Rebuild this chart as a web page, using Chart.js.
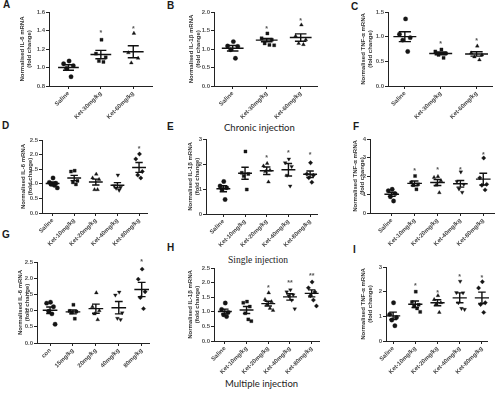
<!DOCTYPE html>
<html>
<head>
<meta charset="utf-8">
<script src="https://cdn.jsdelivr.net/npm/chart.js@4.4.0/dist/chart.umd.min.js"></script>
<style>
  body { margin: 0; width: 500px; height: 394px; background: #fff; position: relative; overflow: hidden; }
  canvas.p { position: absolute; }
  .lt { position: absolute; font: bold 10px "Liberation Sans", Arial, sans-serif; color: #1a1a1a; }
  .hd { position: absolute; white-space: nowrap; color: #222; }
</style>
</head>
<body>
<div class="lt" style="left:3px;top:-1px">A</div>
<div class="lt" style="left:167px;top:0px">B</div>
<div class="lt" style="left:351px;top:1px">C</div>
<div class="lt" style="left:2px;top:120px">D</div>
<div class="lt" style="left:167px;top:121px">E</div>
<div class="lt" style="left:353px;top:121px">F</div>
<div class="lt" style="left:2px;top:229px">G</div>
<div class="lt" style="left:167px;top:242px">H</div>
<div class="lt" style="left:353px;top:244px">I</div>
<div class="hd" style="left:224px;top:122px;font:9.5px Lato,sans-serif">Chronic injection</div>
<div class="hd" style="left:228px;top:255px;font:9.5px 'Liberation Serif',serif">Single injection</div>
<div class="hd" style="left:225px;top:378px;font:9.5px Lato,sans-serif">Multiple injection</div>

<script>
// 카테고리
var catsABC = ['Saline', 'Ket-30mg/kg', 'Ket-60mg/kg'];
var catsKet = ['Saline', 'Ket-10mg/kg', 'Ket-20mg/kg', 'Ket-40mg/kg', 'Ket-80mg/kg'];
var catsG = ['con', '15mg/kg', '20mg/kg', '40mg/kg', '80mg/kg'];

// 개별값 / 평균 / SEM / 유의표시
var ptsA = [[1.07, 1.04, 1.02, 0.99, 0.90], [1.30, 1.15, 1.11, 1.07, 1.06], [1.37, 1.16, 1.10, 1.05]];
var meanA = [1.00, 1.14, 1.17];
var semA = [0.03, 0.045, 0.065];
var starA = ['', '*', '*'];
var starYA = [0, 1.38, 1.43];

var ptsB = [[1.20, 1.08, 1.07, 0.98, 0.75], [1.42, 1.29, 1.25, 1.15, 1.11, 1.10], [1.65, 1.35, 1.25, 1.15, 1.12]];
var meanB = [1.02, 1.24, 1.31];
var semB = [0.075, 0.045, 0.10];
var starB = ['', '*', '*'];
var starYB = [0, 1.56, 1.78];

var ptsC = [[1.36, 1.05, 0.98, 0.93, 0.70], [0.74, 0.70, 0.66, 0.63, 0.57], [0.81, 0.67, 0.63, 0.59, 0.53]];
var meanC = [1.00, 0.66, 0.65];
var semC = [0.10, 0.03, 0.045];
var starC = ['', '*', '*'];
var starYC = [0, 0.87, 0.93];

var ptsD = [[1.20, 1.05, 1.02, 0.98, 0.95, 0.86], [1.45, 1.42, 1.10, 1.05, 0.98], [1.33, 1.20, 1.15, 0.80, 0.80], [1.30, 0.93, 0.88, 0.85, 0.78], [2.02, 1.85, 1.42, 1.30, 1.20]];
var meanD = [1.01, 1.20, 1.06, 0.95, 1.56];
var semD = [0.05, 0.09, 0.10, 0.09, 0.17];
var starD = ['', '', '', '', '*'];
var starYD = [0, 0, 0, 0, 2.22];

var ptsE = [[1.30, 1.12, 1.05, 0.98, 0.58], [2.50, 1.65, 1.60, 1.52, 0.98], [2.02, 1.92, 1.75, 1.70, 1.28], [2.20, 2.05, 1.90, 1.55, 1.12], [2.05, 1.60, 1.55, 1.45, 1.27]];
var meanE = [1.01, 1.63, 1.73, 1.77, 1.59];
var semE = [0.12, 0.24, 0.15, 0.25, 0.13];
var starE = ['', '', '*', '*', '*'];
var starYE = [0, 0, 2.27, 2.49, 2.40];

var ptsF = [[1.28, 1.20, 1.05, 0.88, 0.65], [2.00, 1.65, 1.55, 1.50, 1.28], [1.97, 1.92, 1.75, 1.50, 1.10], [2.22, 1.70, 1.55, 1.30, 1.12], [2.97, 1.90, 1.55, 1.50, 1.25]];
var meanF = [1.01, 1.60, 1.65, 1.58, 1.83];
var semF = [0.11, 0.13, 0.16, 0.18, 0.32];
var starF = ['', '*', '*', '*', '*'];
var starYF = [0, 2.30, 2.35, 2.36, 3.20];

var ptsG = [[1.26, 1.23, 1.12, 0.98, 0.90, 0.58], [1.18, 0.99, 0.97, 0.94, 0.75], [1.55, 1.12, 1.00, 0.90, 0.72], [1.57, 1.48, 0.93, 0.76, 0.72], [2.28, 1.97, 1.58, 1.40, 1.06]];
var meanG = [1.01, 0.96, 1.06, 1.09, 1.65];
var semG = [0.10, 0.06, 0.14, 0.19, 0.22];
var starG = ['', '', '', '', '*'];
var starYG = [0, 0, 0, 0, 2.52];

var ptsH = [[1.30, 1.08, 0.98, 0.90, 0.84], [1.35, 1.31, 1.18, 0.95, 0.74, 0.68], [1.65, 1.42, 1.35, 1.25, 1.12, 1.05], [1.75, 1.68, 1.58, 1.55, 1.40, 1.10], [2.02, 1.82, 1.68, 1.55, 1.40, 1.20]];
var meanH = [1.01, 1.06, 1.28, 1.51, 1.63];
var semH = [0.08, 0.12, 0.08, 0.11, 0.12];
var starH = ['', '', '*', '**', '**'];
var starYH = [0, 0, 1.85, 2.02, 2.25];

var ptsI = [[1.55, 1.08, 0.95, 0.85, 0.62], [2.00, 1.58, 1.47, 1.40, 1.32, 1.18], [1.84, 1.68, 1.55, 1.50, 1.16], [2.42, 1.96, 1.95, 1.55, 1.32, 1.28], [2.40, 2.15, 1.55, 1.48, 1.16]];
var meanI = [1.02, 1.49, 1.55, 1.75, 1.75];
var semI = [0.15, 0.13, 0.12, 0.20, 0.23];
var starI = ['', '*', '*', '*', '*'];
var starYI = [0, 2.26, 1.99, 2.64, 2.60];

var titleIL6 = ['Normalised IL-6 mRNA', '(fold change)'];
var titleIL1 = ['Normalised IL-1\u03b2 mRNA', '(fold change)'];
var titleTNF = ['Normalised TNF-\u03b1 mRNA', '(fold change)'];

// 점 모양 (Prism 기본 순서) 과 좌우 퍼짐
var SHAPES = ['circle', 'rect', 'triangle', 'triangle', 'rectRot'];
var ROTS = [0, 0, 0, 180, 0];
var OFFS = [0.02, -0.15, 0.15, -0.06, 0.08, 0.22];
var FONT = '"Liberation Sans", Arial, sans-serif';

var starPlugin = {
  id: 'stars',
  afterDatasetsDraw: function(c, args, o) {
    if (!o || !o.text) return;
    var ctx = c.ctx, xs = c.scales.x, ys = c.scales.y;
    ctx.save();
    ctx.font = 'bold 7px ' + FONT;
    ctx.fillStyle = '#555';
    ctx.textAlign = 'center';
    ctx.textBaseline = 'middle';
    o.text.forEach(function(t, i) {
      if (t) ctx.fillText(t, xs.getPixelForValue(i), ys.getPixelForValue(o.y[i]) + 1);
    });
    ctx.restore();
  }
};

function makePanel(p) {
  var padT = 7, padR = 4, hx = 40;
  var left = p.ax - p.wy;
  var cv = document.createElement('canvas');
  cv.className = 'p';
  cv.width = p.right - left + padR;
  cv.height = p.bottom - p.top + padT + hx;
  cv.style.left = left + 'px';
  cv.style.top = (p.top - padT) + 'px';
  document.body.appendChild(cv);

  // 평균선 + SEM
  var seg = [];
  p.mean.forEach(function(m, g) {
    var s = p.sem[g];
    seg.push({ x: g - 0.32, y: m }, { x: g + 0.32, y: m }, { x: g, y: null },
             { x: g, y: m - s }, { x: g, y: m + s }, { x: g, y: null },
             { x: g - 0.17, y: m + s }, { x: g + 0.17, y: m + s }, { x: g, y: null },
             { x: g - 0.17, y: m - s }, { x: g + 0.17, y: m - s }, { x: g, y: null });
  });
  var datasets = [{
    data: seg, showLine: true, spanGaps: false, pointRadius: 0,
    borderColor: '#111', borderWidth: 1.4, clip: false
  }];
  p.pts.forEach(function(vals, g) {
    datasets.push({
      data: vals.map(function(v, j) { return { x: g + OFFS[j], y: v }; }),
      pointStyle: SHAPES[g], rotation: ROTS[g], pointRadius: 2.2,
      backgroundColor: '#151515', borderColor: '#151515', borderWidth: 0.3, clip: false
    });
  });

  var yTicks = [];
  for (var v = p.ymin; v <= p.ymax + 1e-9; v += p.step) yTicks.push({ value: Math.round(v * 100) / 100 });

  new Chart(cv, {
    type: 'scatter',
    data: { datasets: datasets },
    plugins: [starPlugin],
    options: {
      responsive: false, animation: false, devicePixelRatio: 1,
      layout: { padding: { top: padT, right: padR, left: 0, bottom: 0 } },
      plugins: {
        legend: { display: false }, tooltip: { enabled: false },
        stars: { text: p.star, y: p.starY }
      },
      scales: {
        x: {
          type: 'linear', min: p.xmin, max: p.xmax,
          afterBuildTicks: function(s) { s.ticks = p.cats.map(function(c, i) { return { value: i }; }); },
          afterFit: function(s) { s.height = hx; },
          grid: { display: true, drawOnChartArea: false, tickLength: 3, color: '#222', lineWidth: 1 },
          border: { color: '#222', width: 1 },
          ticks: {
            autoSkip: false, minRotation: 45, maxRotation: 45, padding: 1,
            color: '#444', font: { family: FONT, size: 6, weight: 'bold' },
            callback: function(v) { return p.cats[v]; }
          }
        },
        y: {
          min: p.ymin, max: p.ymax,
          afterBuildTicks: function(s) { s.ticks = yTicks; },
          afterFit: function(s) { s.width = p.wy; },
          grid: { display: true, drawOnChartArea: false, tickLength: 3, color: '#222', lineWidth: 1 },
          border: { color: '#222', width: 1 },
          ticks: {
            padding: 1, color: '#555', font: { family: FONT, size: 6, weight: 'bold' },
            callback: function(v) { return v.toFixed(p.dec); }
          },
          title: {
            display: true, text: p.title, padding: 0, color: '#333',
            font: { family: FONT, size: 6, weight: 'bold', lineHeight: 1.15 }
          }
        }
      }
    }
  });
}

var panels = [
  { ax: 49, top: 12, right: 153, bottom: 86, wy: 30, xmin: -0.6, xmax: 2.6, ymin: 0.8, ymax: 1.6, step: 0.2, dec: 1,
    title: titleIL6, cats: catsABC, pts: ptsA, mean: meanA, sem: semA, star: starA, starY: starYA },
  { ax: 214, top: 12, right: 318, bottom: 86, wy: 26, xmin: -0.55, xmax: 2.5, ymin: 0, ymax: 2, step: 0.5, dec: 1,
    title: titleIL1, cats: catsABC, pts: ptsB, mean: meanB, sem: semB, star: starB, starY: starYB },
  { ax: 388, top: 12, right: 493, bottom: 86, wy: 28, xmin: -0.47, xmax: 2.45, ymin: 0, ymax: 1.5, step: 0.5, dec: 1,
    title: titleTNF, cats: catsABC, pts: ptsC, mean: meanC, sem: semC, star: starC, starY: starYC },
  { ax: 42, top: 140, right: 148, bottom: 213.5, wy: 22, xmin: -0.49, xmax: 4.4, ymin: 0, ymax: 2.5, step: 0.5, dec: 1,
    title: titleIL6, cats: catsKet, pts: ptsD, mean: meanD, sem: semD, star: starD, starY: starYD },
  { ax: 206, top: 139, right: 318, bottom: 214, wy: 19, xmin: -0.8, xmax: 4.35, ymin: 0, ymax: 3, step: 1, dec: 0,
    title: titleIL1, cats: catsKet, pts: ptsE, mean: meanE, sem: semE, star: starE, starY: starYE },
  { ax: 370, top: 139, right: 495, bottom: 213, wy: 18, xmin: -0.95, xmax: 4.5, ymin: 0, ymax: 4, step: 1, dec: 0,
    title: titleTNF, cats: catsKet, pts: ptsF, mean: meanF, sem: semF, star: starF, starY: starYF },
  { ax: 37, top: 262, right: 150, bottom: 343, wy: 20, xmin: -0.57, xmax: 4.35, ymin: 0, ymax: 2.5, step: 0.5, dec: 1,
    title: titleIL6, cats: catsG, pts: ptsG, mean: meanG, sem: semG, star: starG, starY: starYG },
  { ax: 214, top: 268, right: 320, bottom: 341, wy: 27, xmin: -0.5, xmax: 4.37, ymin: 0, ymax: 2.5, step: 0.5, dec: 1,
    title: titleIL1, cats: catsKet, pts: ptsH, mean: meanH, sem: semH, star: starH, starY: starYH },
  { ax: 386, top: 267, right: 488, bottom: 341, wy: 26, xmin: -0.32, xmax: 4.26, ymin: 0, ymax: 3, step: 1, dec: 0,
    title: titleTNF, cats: catsKet, pts: ptsI, mean: meanI, sem: semI, star: starI, starY: starYI }
];

panels.forEach(makePanel);
</script>
</body>
</html>
